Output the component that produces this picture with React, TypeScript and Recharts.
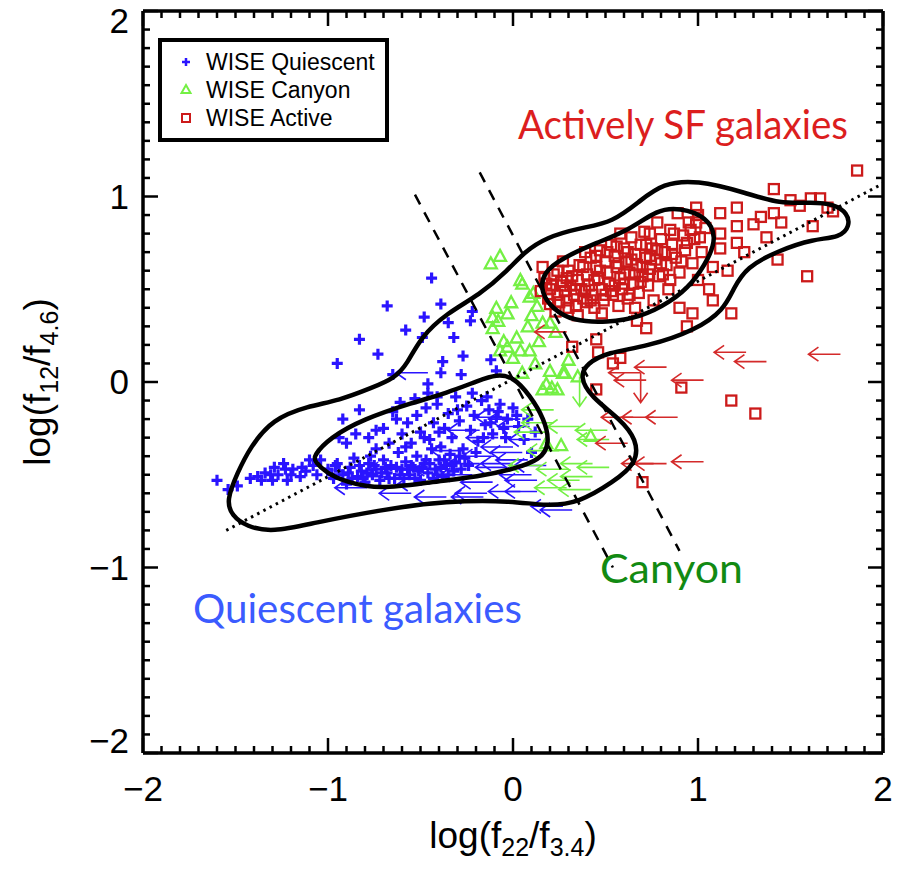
import React from 'react';
import { ScatterChart, Scatter, XAxis, YAxis } from 'recharts';

// WISE colour-colour diagram: log(f12/f4.6) vs log(f22/f3.4)

const quiescent = [
  [-0.44, 0.56], [-0.68, 0.41], [-0.48, 0.35], [-0.39, 0.42], [-0.58, 0.28], [-0.83, 0.23], [-0.49, 0.24],
  [-0.35, 0.32], [-0.23, 0.33], [-0.22, 0.38], [-0.32, 0.24], [-0.73, 0.15], [-0.95, 0.10], [-0.65, 0.04],
  [-0.38, 0.11], [-0.27, 0.14], [-0.39, 0.05], [-0.28, 0.04], [-0.12, 0.12], [-0.09, 0.06], [-0.46, -0.01],
  [-0.46, -0.06], [-0.61, -0.11], [-0.53, -0.09], [-0.41, -0.08], [-0.22, -0.06], [-0.14, -0.08], [-0.92, -0.2],
  [-0.74, -0.26], [-0.65, -0.16], [-0.94, -0.3], [-0.83, -0.15],
  [-1.6, -0.53], [-1.54, -0.58], [-1.49, -0.56], [-1.38, -0.51], [-1.34, -0.49], [-1.29, -0.46], [-1.24, -0.44],
  [-1.19, -0.47], [-1.14, -0.46], [-1.08, -0.45], [-1.3, -0.53], [-1.22, -0.53], [-1.15, -0.51], [-1.04, -0.42],
  [-1.31, -0.5], [-1.42, -0.52], [-1.23, -0.47],
  [-1.0, -0.47], [-0.97, -0.52], [-0.95, -0.44], [-0.92, -0.5], [-0.9, -0.55], [-0.88, -0.46], [-0.86, -0.41],
  [-0.84, -0.51], [-0.82, -0.48], [-0.8, -0.54], [-0.78, -0.44], [-0.76, -0.5], [-0.74, -0.47], [-0.72, -0.53],
  [-0.7, -0.42], [-0.68, -0.49], [-0.66, -0.45], [-0.64, -0.52], [-0.62, -0.38], [-0.6, -0.47], [-0.58, -0.43],
  [-0.56, -0.5], [-0.54, -0.46], [-0.52, -0.4], [-0.5, -0.53], [-0.48, -0.44], [-0.46, -0.49], [-0.44, -0.36],
  [-0.42, -0.47], [-0.4, -0.42], [-0.38, -0.51], [-0.36, -0.45], [-0.34, -0.39], [-0.32, -0.48],
  [-0.6, -0.28], [-0.57, -0.22], [-0.55, -0.33], [-0.52, -0.18], [-0.5, -0.27], [-0.47, -0.14], [-0.45, -0.31],
  [-0.43, -0.22], [-0.41, -0.12], [-0.39, -0.35], [-0.37, -0.25], [-0.35, -0.17], [-0.33, -0.3], [-0.31, -0.08],
  [-0.29, -0.21], [-0.27, -0.36], [-0.25, -0.13], [-0.23, -0.26], [-0.21, -0.18], [-0.19, -0.32], [-0.17, -0.1],
  [-0.15, -0.23], [-0.13, -0.15], [-0.11, -0.28], [-0.09, -0.19], [-0.07, -0.12], [-0.05, -0.25], [-0.03, -0.2],
  [0.0, -0.14], [0.03, -0.24], [0.06, -0.31], [0.08, -0.2], [0.1, -0.38], [0.12, -0.27],
  [-0.9, -0.33], [-0.85, -0.28], [-0.78, -0.3], [-0.74, -0.36], [-0.7, -0.25], [-0.67, -0.33], [-0.63, -0.2],
  [-0.98, -0.5], [-0.94, -0.48], [-0.87, -0.52], [-0.83, -0.45], [-0.79, -0.49], [-0.75, -0.45], [-0.71, -0.49],
  [-0.67, -0.52], [-0.63, -0.46], [-0.59, -0.52], [-0.55, -0.45], [-0.51, -0.48], [-0.47, -0.42], [-0.43, -0.52],
  [-0.39, -0.46], [-0.35, -0.5], [-0.31, -0.43], [-0.28, -0.47], [-0.26, -0.41], [-0.24, -0.45],
  [-1.27, -0.5], [-1.2, -0.5], [-1.12, -0.48], [-1.06, -0.5], [-1.1, -0.42], [-1.36, -0.53],
  [-0.96, -0.45], [-0.89, -0.49], [-0.81, -0.52], [-0.77, -0.4], [-0.69, -0.46], [-0.61, -0.5], [-0.57, -0.47],
  [-0.53, -0.52], [-0.49, -0.46], [-0.45, -0.44], [-0.41, -0.5], [-0.37, -0.42], [-0.33, -0.45], [-0.29, -0.4],
  [-0.2, -0.38], [-0.16, -0.3], [-0.12, -0.22], [-0.08, -0.16], [-0.04, -0.3], [0.02, -0.18], [-0.58, -0.35],
  [-0.48, -0.3], [-0.4, -0.27], [-0.3, -0.15],
];

const quiescentLimits = [
  [-0.46, 0.05], [-0.36, -0.62], [-0.16, -0.62], [0.04, -0.59], [0.13, -0.59], [0.32, -0.69], [-0.11, -0.54],
  [0.13, -0.53], [-0.03, -0.46], [0.05, -0.38], [0.15, -0.31], [0.09, -0.24], [-0.03, -0.19], [-0.14, -0.6],
  [0.27, -0.67], [-0.79, -0.57], [-0.66, -0.51], [-0.18, -0.26], [0.04, -0.2], [0.0, -0.35], [-0.18, -0.44],
  [0.0, -0.44], [-0.36, -0.47], [-0.61, -0.47], [-0.27, -0.37], [-0.22, -0.5], [0.08, -0.42], [-0.08, -0.3],
  [-0.45, -0.55], [0.1, -0.5], [-0.55, -0.6], [0.18, -0.45], [-0.1, -0.4],
];

const canyon = [
  [-0.12, 0.64], [-0.07, 0.68], [0.05, 0.53], [0.11, 0.48], [0.04, 0.55], [0.09, 0.46], [-0.01, 0.43],
  [-0.09, 0.4], [-0.11, 0.35], [-0.03, 0.37], [-0.08, 0.33], [-0.11, 0.29], [0.16, 0.32], [0.2, 0.32],
  [0.23, 0.27], [0.13, 0.41], [-0.03, 0.19], [0.04, 0.17], [0.09, 0.17], [-0.07, 0.17], [0.0, 0.13],
  [-0.05, 0.22], [0.02, 0.24], [0.28, 0.05], [0.35, 0.03], [0.18, -0.01], [0.24, -0.04], [0.16, -0.04],
  [0.05, 0.05], [0.21, -0.03], [0.27, 0.05], [0.12, 0.1], [0.42, -0.29], [0.26, -0.34], [0.18, -0.33],
  [0.14, 0.22], [0.08, 0.3], [0.3, 0.12], [0.2, 0.06], [0.1, 0.36],
];

const canyonLimits = [
  [0.22, -0.15], [0.22, -0.22], [0.51, -0.26], [0.52, -0.31], [0.25, -0.37], [0.43, -0.44], [0.52, -0.46],
  [0.43, -0.51], [0.29, -0.57], [0.36, -0.24], [0.18, -0.27], [0.36, -0.53], [0.42, -0.58], [0.3, -0.47],
  [0.15, -0.45],
];
const canyonDownLimits = [[0.36, 0.03]];

const active = [
  [0.15, 0.49], [0.17, 0.56], [0.16, 0.62], [0.19, 0.45], [0.21, 0.52], [0.22, 0.58], [0.24, 0.47], [0.25, 0.43],
  [0.26, 0.54], [0.28, 0.49], [0.29, 0.44], [0.3, 0.6], [0.31, 0.52], [0.33, 0.47], [0.34, 0.41], [0.35, 0.55],
  [0.36, 0.63], [0.37, 0.5], [0.38, 0.45], [0.4, 0.58], [0.41, 0.52], [0.42, 0.67], [0.43, 0.47], [0.44, 0.4],
  [0.45, 0.62], [0.46, 0.56], [0.47, 0.71], [0.48, 0.5], [0.49, 0.44], [0.5, 0.65], [0.51, 0.59], [0.52, 0.53],
  [0.53, 0.74], [0.54, 0.47], [0.55, 0.68], [0.56, 0.62], [0.57, 0.41], [0.58, 0.56], [0.59, 0.5], [0.6, 0.72],
  [0.61, 0.65], [0.62, 0.45], [0.63, 0.59], [0.64, 0.78], [0.65, 0.53], [0.66, 0.69], [0.67, 0.63], [0.68, 0.48],
  [0.69, 0.74], [0.7, 0.57], [0.71, 0.81], [0.72, 0.67], [0.73, 0.52], [0.74, 0.61], [0.75, 0.72], [0.76, 0.44],
  [0.77, 0.66], [0.78, 0.86], [0.79, 0.57], [0.8, 0.77], [0.82, 0.7], [0.83, 0.63], [0.84, 0.5], [0.85, 0.82],
  [0.86, 0.74], [0.88, 0.67], [0.89, 0.91], [0.9, 0.59], [0.92, 0.79], [0.93, 0.71], [0.95, 0.86], [0.97, 0.64],
  [0.98, 0.77], [1.0, 0.9], [1.02, 0.7], [1.04, 0.83], [0.27, 0.65], [0.39, 0.7], [0.58, 0.8], [0.48, 0.37],
  [0.66, 0.4], [0.35, 0.36], [0.23, 0.38],
  [1.86, 1.14], [1.41, 1.04], [1.5, 0.98], [1.61, 0.99], [1.66, 0.99], [1.7, 0.94], [1.73, 0.92], [1.62, 0.84],
  [1.41, 0.91], [1.34, 0.89], [1.37, 0.78], [1.43, 0.66], [1.59, 0.57], [1.21, 0.94], [1.21, 0.84], [1.21, 0.75],
  [1.12, 0.91], [1.12, 0.8], [1.16, 0.6], [1.18, 0.37], [1.08, 0.62], [1.08, 0.44], [0.99, 0.94], [0.99, 0.86],
  [0.97, 0.37], [0.94, 0.3], [0.9, 0.4], [0.72, 0.29], [0.67, 0.33], [0.45, 0.23], [0.32, 0.19], [0.46, 0.16],
  [0.54, 0.1], [0.58, 0.13], [0.45, -0.04], [0.91, -0.03], [1.18, -0.1], [1.31, -0.17], [0.7, -0.54],
  [1.3, 0.85], [1.25, 0.7], [1.45, 0.86], [1.55, 0.95], [1.06, 0.5], [1.0, 0.55], [1.12, 0.72],
  [0.2, 0.5], [0.27, 0.52], [0.32, 0.57], [0.39, 0.49], [0.44, 0.55], [0.5, 0.47], [0.55, 0.52], [0.6, 0.58],
  [0.64, 0.66], [0.7, 0.62], [0.74, 0.68], [0.8, 0.64], [0.86, 0.69], [0.62, 0.7], [0.57, 0.64], [0.69, 0.54],
  [0.18, 0.53], [0.24, 0.6], [0.29, 0.56], [0.34, 0.5], [0.38, 0.62], [0.42, 0.44], [0.47, 0.6], [0.51, 0.7],
  [0.53, 0.49], [0.6, 0.53], [0.63, 0.47], [0.66, 0.58], [0.72, 0.74], [0.73, 0.58], [0.78, 0.71], [0.81, 0.58],
  [0.87, 0.8], [0.91, 0.65], [0.94, 0.75], [0.96, 0.82], [0.56, 0.73], [0.45, 0.68], [0.4, 0.43], [0.3, 0.4],
  [0.2, 0.42], [0.85, 0.55], [1.01, 0.78], [0.74, 0.8],
];

const activeLimits = [
  [0.29, 0.27], [1.26, 0.16], [1.37, 0.11], [1.77, 0.15], [0.83, 0.08], [0.72, 0.01], [1.03, 0.01],
  [0.65, -0.19], [0.89, -0.19], [0.76, -0.19], [0.62, -0.33], [0.83, -0.44], [1.03, -0.43], [0.76, -0.44],
  [0.69, 0.05],
];
const activeDownLimits = [[0.69, 0.05]];

// density contours
const outerContour = [
  [-1.55, -0.64], [-1.49, -0.49], [-1.42, -0.35], [-1.3, -0.2], [-1.11, -0.13], [-0.94, -0.1], [-0.76, -0.03],
  [-0.64, 0.02], [-0.57, 0.1], [-0.5, 0.24], [-0.36, 0.37], [-0.18, 0.47], [-0.03, 0.6], [0.06, 0.7],
  [0.18, 0.78], [0.36, 0.83], [0.54, 0.86], [0.69, 0.98], [0.81, 1.07], [0.99, 1.09], [1.26, 1.02],
  [1.44, 0.96], [1.62, 0.97], [1.73, 0.96], [1.81, 0.91], [1.82, 0.84], [1.77, 0.78], [1.62, 0.77],
  [1.44, 0.71], [1.26, 0.62], [1.19, 0.5], [1.14, 0.39], [0.99, 0.28], [0.72, 0.19], [0.51, 0.16],
  [0.4, 0.1], [0.36, 0.03], [0.42, -0.08], [0.58, -0.2], [0.67, -0.31], [0.67, -0.44], [0.54, -0.54],
  [0.36, -0.65], [0.18, -0.67], [0.0, -0.64], [-0.36, -0.64], [-0.72, -0.69], [-1.08, -0.76], [-1.3, -0.81],
  [-1.44, -0.78], [-1.52, -0.72],
];
const innerQuiescentContour = [
  [-1.08, -0.4], [-0.99, -0.3], [-0.81, -0.2], [-0.54, -0.11], [-0.36, -0.06], [-0.18, 0.01], [-0.09, 0.04],
  [0.0, 0.03], [0.09, -0.07], [0.17, -0.2], [0.2, -0.33], [0.15, -0.42], [0.0, -0.47], [-0.18, -0.51],
  [-0.45, -0.54], [-0.72, -0.58], [-0.9, -0.54], [-1.01, -0.49], [-1.07, -0.43],
];
const innerActiveContour = [
  [0.15, 0.48], [0.16, 0.59], [0.27, 0.67], [0.45, 0.75], [0.63, 0.82], [0.78, 0.93], [0.9, 0.94],
  [1.05, 0.89], [1.1, 0.78], [1.06, 0.67], [0.97, 0.53], [0.85, 0.43], [0.69, 0.35], [0.51, 0.32],
  [0.32, 0.33], [0.22, 0.39],
];

const dottedLine = [[-1.55, -0.8], [2.0, 1.07]];
const dashedLeft = [[-0.53, 1.01], [0.54, -1.0]];
const dashedRight = [[-0.18, 1.13], [0.9, -0.91]];

const majorTicks = [-2, -1, 0, 1, 2];
const tickLabels = ['\u22122', '\u22121', '0', '1', '2'];
const allTicks = Array.from({ length: 41 }, (_, i) => (i - 20) / 10);

const pts = (a: number[][]) => a.map(([x, y]) => ({ x, y }));

const BLUE = '#2a14ff';
const GREEN = '#74f044';
const RED = '#cc1a1a';
const RED_ARROW = '#d42a2a';
const FONT = '"Liberation Sans", Arial, Helvetica, sans-serif';

const isMajor = (v: number) => Math.abs(v - Math.round(v)) < 1e-6;
const labelOf = (v: number) => tickLabels[majorTicks.indexOf(Math.round(v))];

const Plus = ({ cx, cy }: any) => (
  <path d={`M${cx - 5.5},${cy}H${cx + 5.5}M${cx},${cy - 5.5}V${cy + 5.5}`} stroke={BLUE} strokeWidth={3.2} fill="none" />
);
const Tri = ({ cx, cy }: any) => (
  <path d={`M${cx},${cy - 6}L${cx + 6},${cy + 5}L${cx - 6},${cy + 5}Z`} stroke={GREEN} strokeWidth={2.3} fill="none" />
);
const Sq = ({ cx, cy }: any) => (
  <rect x={cx - 5} y={cy - 5} width={10} height={10} stroke={RED} strokeWidth={2.3} fill="none" />
);
const leftArrow = (color: string) => ({ cx, cy }: any) => (
  <path
    d={`M${cx},${cy}H${cx - 32}M${cx - 22},${cy - 7}L${cx - 32},${cy}L${cx - 22},${cy + 7}`}
    stroke={color} strokeWidth={1.6} fill="none"
  />
);
const downArrow = (color: string) => ({ cx, cy }: any) => (
  <path
    d={`M${cx},${cy}V${cy + 30}M${cx - 7},${cy + 20}L${cx},${cy + 30}L${cx + 7},${cy + 20}`}
    stroke={color} strokeWidth={1.6} fill="none"
  />
);
const Empty = () => <g />;

const BottomTick = ({ x, y, payload }: any) => {
  const v = payload.value;
  const len = isMajor(v) ? 15 : 7;
  return (
    <g>
      <line x1={x} y1={y} x2={x} y2={y - len} stroke="#000" strokeWidth={2.5} />
      {isMajor(v) && (
        <text x={x} y={y + 48} textAnchor="middle" fontSize={35} fontFamily={FONT} fill="#000">
          {labelOf(v)}
        </text>
      )}
    </g>
  );
};
const TopTick = ({ x, y, payload }: any) => {
  const len = isMajor(payload.value) ? 15 : 7;
  return <line x1={x} y1={y} x2={x} y2={y + len} stroke="#000" strokeWidth={2.5} />;
};
const LeftTick = ({ x, y, payload }: any) => {
  const v = payload.value;
  const len = isMajor(v) ? 15 : 7;
  // IDL keeps the end labels inside the frame
  const cy = v === 2 ? y + 10 : v === -2 ? y - 12 : y;
  return (
    <g>
      <line x1={x} y1={y} x2={x + len} y2={y} stroke="#000" strokeWidth={2.5} />
      {isMajor(v) && (
        <text x={x - 14} y={cy + 12} textAnchor="end" fontSize={35} fontFamily={FONT} fill="#000">
          {labelOf(v)}
        </text>
      )}
    </g>
  );
};
const RightTick = ({ x, y, payload }: any) => {
  const len = isMajor(payload.value) ? 15 : 7;
  return <line x1={x} y1={y} x2={x - len} y2={y} stroke="#000" strokeWidth={2.5} />;
};

const axisLine = { stroke: '#000', strokeWidth: 3.5 };

export default function App() {
  const lineScatter = (data: number[][], line: any, joint: any = 'linear') => (
    <Scatter
      data={pts(data)}
      line={{ fill: 'none', ...line }}
      lineType="joint"
      lineJointType={joint}
      shape={Empty}
      isAnimationActive={false}
    />
  );

  return (
    <div style={{ position: 'absolute', left: 0, top: 0, width: 905, height: 872, background: '#fff' }}>
      <ScatterChart width={905} height={872} margin={{ top: 10, right: 21, bottom: 118, left: 142 }}>
        <XAxis
          type="number" dataKey="x" domain={[-2, 2]} ticks={allTicks} interval={0} height={1}
          tickSize={0} tickMargin={0} tickLine={false} axisLine={axisLine} tick={(p: any) => <BottomTick {...p} />}
          allowDataOverflow
        />
        <XAxis
          xAxisId="top" orientation="top" type="number" dataKey="x" domain={[-2, 2]} ticks={allTicks} interval={0}
          height={1} tickSize={0} tickMargin={0} tickLine={false} axisLine={axisLine}
          tick={(p: any) => <TopTick {...p} />} allowDataOverflow
        />
        <YAxis
          type="number" dataKey="y" domain={[-2, 2]} ticks={allTicks} interval={0} width={1}
          tickSize={0} tickMargin={0} tickLine={false} axisLine={axisLine} tick={(p: any) => <LeftTick {...p} />}
          allowDataOverflow
        />
        <YAxis
          yAxisId="right" orientation="right" type="number" dataKey="y" domain={[-2, 2]} ticks={allTicks}
          interval={0} width={1} tickSize={0} tickMargin={0} tickLine={false} axisLine={axisLine}
          tick={(p: any) => <RightTick {...p} />} allowDataOverflow
        />

        <Scatter data={pts(quiescent)} shape={Plus} isAnimationActive={false} />
        <Scatter data={pts(quiescentLimits)} shape={leftArrow(BLUE)} isAnimationActive={false} />
        <Scatter data={pts(canyon)} shape={Tri} isAnimationActive={false} />
        <Scatter data={pts(canyonLimits)} shape={leftArrow(GREEN)} isAnimationActive={false} />
        <Scatter data={pts(canyonDownLimits)} shape={downArrow(GREEN)} isAnimationActive={false} />
        <Scatter data={pts(active)} shape={Sq} isAnimationActive={false} />
        <Scatter data={pts(activeLimits)} shape={leftArrow(RED_ARROW)} isAnimationActive={false} />
        <Scatter data={pts(activeDownLimits)} shape={downArrow(RED_ARROW)} isAnimationActive={false} />

        {lineScatter(dottedLine, { stroke: '#000', strokeWidth: 3, strokeDasharray: '2.5 4.5' })}
        {lineScatter(dashedLeft, { stroke: '#000', strokeWidth: 2.5, strokeDasharray: '11 9' })}
        {lineScatter(dashedRight, { stroke: '#000', strokeWidth: 2.5, strokeDasharray: '11 9' })}
        {lineScatter(outerContour, { stroke: '#000', strokeWidth: 4.5 }, 'basisClosed')}
        {lineScatter(innerQuiescentContour, { stroke: '#000', strokeWidth: 4.5 }, 'basisClosed')}
        {lineScatter(innerActiveContour, { stroke: '#000', strokeWidth: 4.5 }, 'basisClosed')}
      </ScatterChart>

      <svg width={905} height={872} style={{ position: 'absolute', left: 0, top: 0, pointerEvents: 'none' }}>
        {/* legend */}
        <rect x={160} y={40} width={227} height={100} fill="#fff" stroke="#000" strokeWidth={4} />
        <path d="M182,62H190M186,58V66" stroke={BLUE} strokeWidth={2.5} />
        <path d="M186,85L190.5,93L181.5,93Z" stroke={GREEN} strokeWidth={2} fill="none" />
        <rect x={182} y={114} width={8} height={8} stroke={RED} strokeWidth={2} fill="none" />
        <g fontFamily={FONT} fontSize={23} fill="#000">
          <text x={206} y={70}>WISE Quiescent</text>
          <text x={206} y={98}>WISE Canyon</text>
          <text x={206} y={126}>WISE Active</text>
        </g>

        {/* axis titles */}
        <text x={513} y={848} textAnchor="middle" fontFamily={FONT} fontSize={37} fill="#000">
          log(f<tspan fontSize={25} dy={8}>22</tspan>
          <tspan dy={-8}>/f</tspan>
          <tspan fontSize={25} dy={8}>3.4</tspan>
          <tspan dy={-8}>)</tspan>
        </text>
        <text
          x={50} y={382} textAnchor="middle" fontFamily={FONT} fontSize={37} fill="#000"
          transform="rotate(-90 50 382)"
        >
          log(f<tspan fontSize={25} dy={8}>12</tspan>
          <tspan dy={-8}>/f</tspan>
          <tspan fontSize={25} dy={8}>4.6</tspan>
          <tspan dy={-8}>)</tspan>
        </text>

        {/* region annotations */}
        <g fontFamily="Lato, 'Open Sans', sans-serif" fontSize={40}>
          <text x={518} y={139} fill="#dc1e1e" textLength={330} lengthAdjust="spacingAndGlyphs">Actively SF galaxies</text>
          <text x={600} y={583} fill="#128a12" textLength={143} lengthAdjust="spacingAndGlyphs">Canyon</text>
          <text x={193} y={623} fill="#3b5bff" textLength={329} lengthAdjust="spacingAndGlyphs">Quiescent galaxies</text>
        </g>
      </svg>
    </div>
  );
}
